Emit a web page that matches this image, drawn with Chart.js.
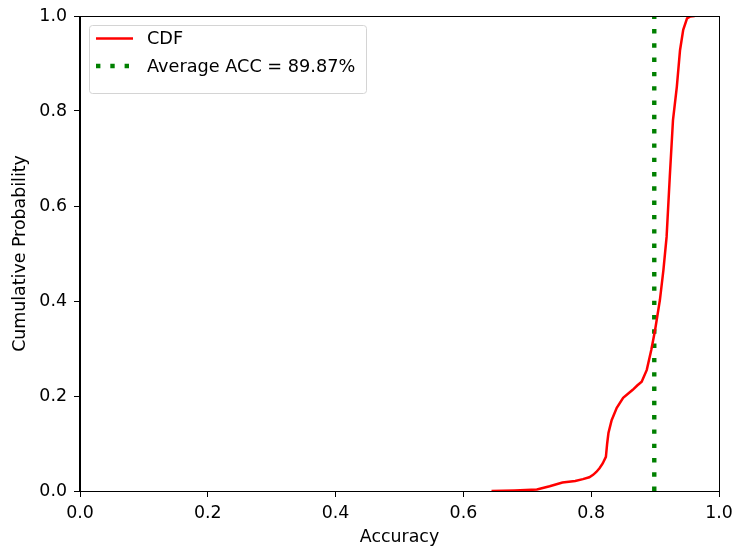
<!DOCTYPE html>
<html>
<head>
<meta charset="utf-8">
<script src="https://cdn.jsdelivr.net/npm/chart.js@4/dist/chart.umd.min.js"></script>
<style>
html,body{margin:0;padding:0;background:#fff;}
#wrap{width:735px;height:553px;position:relative;}
</style>
</head>
<body>
<div id="wrap"><canvas id="c" width="735" height="553"></canvas></div>
<script>
// Data
const cdfX = [0.644, 0.680, 0.715, 0.735, 0.755, 0.775, 0.787, 0.797, 0.803, 0.808, 0.813, 0.818, 0.823, 0.825, 0.827, 0.832, 0.840, 0.850, 0.865, 0.872, 0.879, 0.887, 0.894, 0.900, 0.9075, 0.913, 0.918, 0.923, 0.928, 0.934, 0.939, 0.944, 0.950, 0.955, 0.962];
const cdfY = [0.000, 0.001, 0.003, 0.010, 0.018, 0.021, 0.025, 0.029, 0.034, 0.040, 0.048, 0.058, 0.072, 0.100, 0.122, 0.149, 0.175, 0.196, 0.213, 0.222, 0.230, 0.255, 0.297, 0.339, 0.402, 0.465, 0.535, 0.662, 0.781, 0.851, 0.928, 0.971, 0.995, 0.999, 1.000];
const avgAcc = 0.8987;
const avgLineY = [0, 1];
const xTicks = [0.0, 0.2, 0.4, 0.6, 0.8, 1.0];
const yTicks = [0.0, 0.2, 0.4, 0.6, 0.8, 1.0];
const seriesLabels = ['CDF', 'Average ACC = 89.87%'];
const xTitle = 'Accuracy';
const yTitle = 'Cumulative Probability';

const FONT = "'DejaVu Sans', sans-serif";
const FS = 17.4;
const cdfPoints = cdfX.map((x, i) => ({x: x, y: cdfY[i]}));
const avgPoints = avgLineY.map(y => ({x: avgAcc, y: y}));

const framePlugin = {
  id: 'frame',
  afterDatasetsDraw(chart) {
    const {ctx, chartArea: a} = chart;
    ctx.save();
    ctx.strokeStyle = '#000';
    ctx.lineWidth = 1;
    ctx.strokeRect(Math.round(a.left) - 0.5, Math.round(a.top) + 0.5, Math.round(a.right - a.left) + 1, Math.round(a.bottom - a.top));
    ctx.restore();
  }
};

const legendPlugin = {
  id: 'mplLegend',
  afterDraw(chart) {
    const ctx = chart.ctx;
    const x0 = 89.5, y0 = 25.5, w = 277, h = 68, r = 3;
    ctx.save();
    ctx.beginPath();
    ctx.moveTo(x0 + r, y0);
    ctx.arcTo(x0 + w, y0, x0 + w, y0 + h, r);
    ctx.arcTo(x0 + w, y0 + h, x0, y0 + h, r);
    ctx.arcTo(x0, y0 + h, x0, y0, r);
    ctx.arcTo(x0, y0, x0 + w, y0, r);
    ctx.closePath();
    ctx.fillStyle = 'rgba(255,255,255,0.8)';
    ctx.fill();
    ctx.strokeStyle = '#d4d4d4';
    ctx.lineWidth = 1;
    ctx.stroke();
    const d0 = chart.data.datasets[0];
    ctx.strokeStyle = d0.borderColor;
    ctx.lineWidth = d0.borderWidth;
    ctx.beginPath();
    ctx.moveTo(96, 38.5);
    ctx.lineTo(133, 38.5);
    ctx.stroke();
    const d1 = chart.data.datasets[1];
    ctx.strokeStyle = d1.borderColor;
    ctx.lineWidth = d1.borderWidth;
    ctx.setLineDash(d1.borderDash);
    ctx.beginPath();
    ctx.moveTo(96, 66);
    ctx.lineTo(131, 66);
    ctx.stroke();
    ctx.setLineDash([]);
    ctx.fillStyle = '#000';
    ctx.font = '17.7px ' + FONT;
    ctx.textBaseline = 'middle';
    ctx.textAlign = 'left';
    ctx.fillText(seriesLabels[0], 147, 39.5);
    ctx.fillText(seriesLabels[1], 147, 67);
    ctx.restore();
  }
};

new Chart(document.getElementById('c'), {
  type: 'line',
  data: {
    datasets: [
      {
        label: seriesLabels[0],
        data: cdfPoints,
        borderColor: 'red',
        borderWidth: 2.5,
        pointRadius: 0,
        tension: 0,
        fill: false
      },
      {
        label: seriesLabels[1],
        data: avgPoints,
        borderColor: 'green',
        borderWidth: 4.4,
        borderDash: [4.4, 9.9],
        borderCapStyle: 'butt',
        pointRadius: 0,
        fill: false
      }
    ]
  },
  options: {
    responsive: false,
    animation: false,
    devicePixelRatio: 1,
    layout: {padding: {top: 16, right: 16, left: 0, bottom: 0}},
    plugins: {
      legend: {display: false},
      tooltip: {enabled: false}
    },
    scales: {
      x: {
        type: 'linear',
        min: 0, max: 1,
        afterBuildTicks(scale) { scale.ticks = xTicks.map(v => ({value: v})); },
        afterFit(scale) { scale.height = 62; scale.paddingLeft = 0; scale.paddingRight = 0; },
        grid: {drawOnChartArea: false, drawTicks: true, tickLength: 6, color: '#000', tickWidth: 1},
        border: {display: true, color: '#000', width: 1},
        ticks: {
          color: '#000',
          font: {family: FONT, size: FS},
          padding: 6,
          maxRotation: 0,
          callback: v => Number(v).toFixed(1)
        },
        title: {
          display: true, text: xTitle, color: '#000',
          font: {family: FONT, size: FS},
          padding: {top: 4, bottom: 5}
        }
      },
      y: {
        type: 'linear',
        min: 0, max: 1,
        afterBuildTicks(scale) { scale.ticks = yTicks.map(v => ({value: v})); },
        afterFit(scale) { scale.width = 80; scale.paddingTop = 0; scale.paddingBottom = 0; },
        grid: {drawOnChartArea: false, drawTicks: true, tickLength: 6, color: '#000', tickWidth: 1},
        border: {display: true, color: '#000', width: 1},
        ticks: {
          color: '#000',
          font: {family: FONT, size: FS},
          padding: 7,
          callback: v => Number(v).toFixed(1)
        },
        title: {
          display: true, text: yTitle, color: '#000',
          font: {family: FONT, size: FS},
          padding: {top: 10, bottom: 4}
        }
      }
    }
  },
  plugins: [framePlugin, legendPlugin]
});
</script>
</body>
</html>
